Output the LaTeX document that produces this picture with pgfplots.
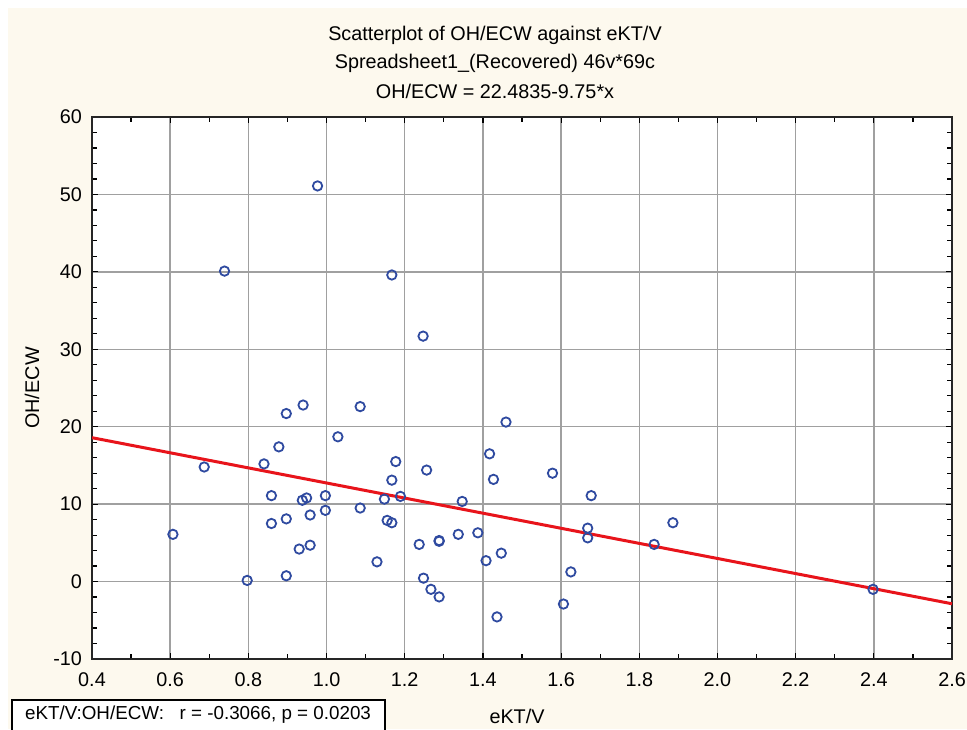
\documentclass[border=0pt]{standalone}
\usepackage{fontspec}
\setmainfont{Liberation Sans}
\usepackage{pgfplots}
\pgfplotsset{compat=1.18}
\definecolor{bgcream}{RGB}{253,249,238}
\definecolor{gridgray}{RGB}{160,160,160}
\definecolor{ptblue}{RGB}{47,74,160}
\definecolor{fitred}{RGB}{232,20,27}
\begin{document}
\begin{tikzpicture}[x=0.5pt,y=0.5pt,font=\fontsize{9.9}{12}\selectfont]
\useasboundingbox (0,0) rectangle (967,729);
\fill[white] (0,0) rectangle (967,729);
\fill[bgcream] (8,0) rectangle (967,721);
\begin{axis}[
    at={(46pt,35pt)}, anchor=south west,
    scale only axis, width=430pt, height=271pt,
    xmin=0.4, xmax=2.6, ymin=-10, ymax=60,
    xtick={0.4,0.6,0.8,1.0,1.2,1.4,1.6,1.8,2.0,2.2,2.4,2.6},
    ytick={-10,0,10,20,30,40,50,60},
    minor x tick num=1, minor y tick num=4,
    tick pos=both, tick align=inside,
    major tick length=3pt, minor tick length=2.5pt,
    every tick/.style={black, line width=0.6pt},
    xticklabel style={yshift=-3.5pt, /pgf/number format/.cd, fixed, fixed zerofill, precision=1, assume math mode=true},
    yticklabel style={xshift=-1.5pt, /pgf/number format/assume math mode=true},
    grid=major,
    major grid style={gridgray, line width=0.75pt},
    axis line style={black!85, line width=1pt},
    axis background/.style={fill=white},
    clip=true,
]
\addplot[only marks, mark=o, mark size=2.35pt, mark options={ptblue, line width=0.9pt}] coordinates {
(0.607,6.1) (0.687,14.8) (0.739,40.1) (0.797,0.15) (0.840,15.2)
(0.859,11.1) (0.859,7.5) (0.878,17.4) (0.897,21.7) (0.897,8.1)
(0.897,0.75) (0.930,4.2) (0.940,22.8) (0.938,10.5) (0.949,10.8)
(0.958,8.6) (0.958,4.7) (0.977,51.1) (0.997,11.1) (0.997,9.2)
(1.029,18.7) (1.086,22.6) (1.086,9.5) (1.129,2.55) (1.148,10.65)
(1.155,7.9) (1.167,7.6) (1.167,13.1) (1.167,39.6) (1.177,15.5)
(1.189,11.0) (1.247,31.7) (1.237,4.8) (1.248,0.44) (1.256,14.4)
(1.267,-1.0) (1.288,5.2) (1.288,5.3) (1.288,-1.98) (1.337,6.1)
(1.347,10.35) (1.387,6.3) (1.408,2.7) (1.417,16.5) (1.427,13.2)
(1.436,-4.56) (1.447,3.67) (1.459,20.6) (1.578,14.0) (1.606,-2.9)
(1.625,1.25) (1.668,6.9) (1.668,5.65) (1.677,11.1) (1.838,4.8)
(1.886,7.6) (2.398,-1.0)
};
\addplot[fitred, line width=1.5pt] coordinates {(0.4,18.5835) (2.6,-2.8665)};
\end{axis}
\node at (495,694) {Scatterplot of OH/ECW against eKT/V};
\node at (495,666) {Spreadsheet1\_(Recovered) 46v*69c};
\node at (495,638) {OH/ECW = 22.4835-9.75*x};
\node[rotate=90] at (32,341) {OH/ECW};
\node at (517,13) {eKT/V};
\draw[black, line width=0.6pt, fill=white] (12,-4) rectangle (385,29);
\node[font=\fontsize{9.4}{11}\selectfont] at (198,14) {eKT/V:OH/ECW:\ \ \ r = -0.3066, p = 0.0203};
\end{tikzpicture}
\end{document}
